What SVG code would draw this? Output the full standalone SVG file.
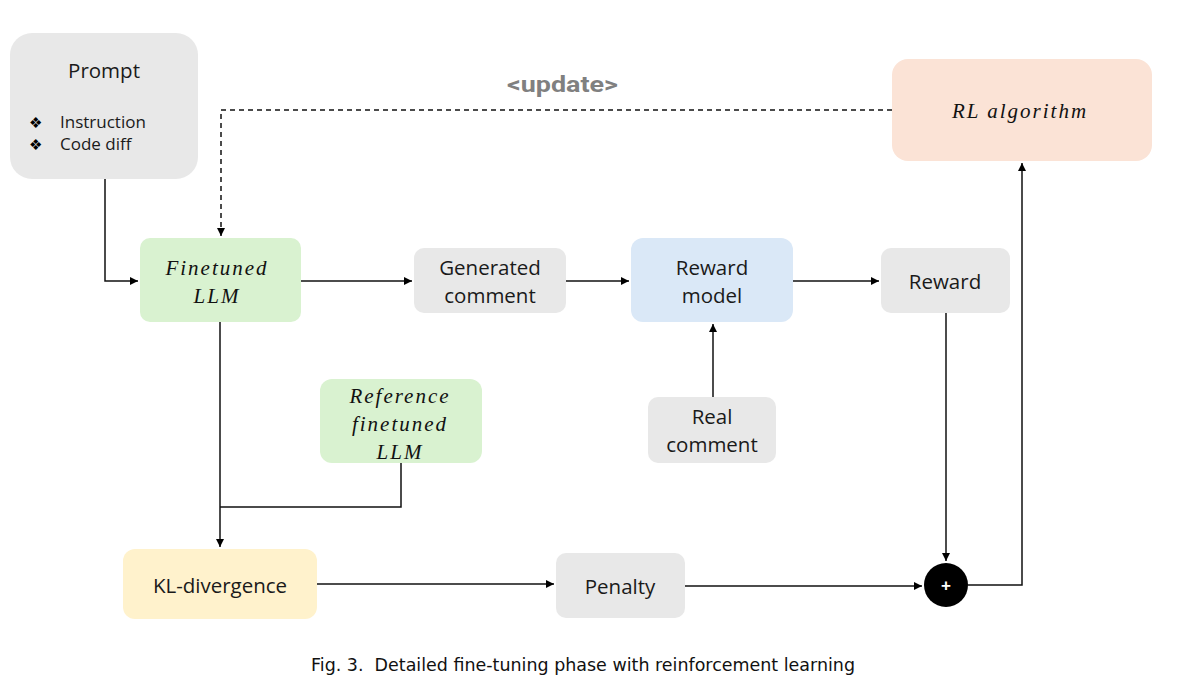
<svg xmlns="http://www.w3.org/2000/svg" width="1192" height="690" viewBox="0 0 1192 690">
<defs>
<marker id="ah" viewBox="0 0 10 10" refX="10" refY="5" markerWidth="8" markerHeight="8" markerUnits="userSpaceOnUse" orient="auto">
<path d="M0,0 L10,5 L0,10 z" fill="#000"/>
</marker>
<style>
.gray{fill:#e8e8e8}
.t{font-family:"Open Sans","Liberation Sans",sans-serif;font-size:20.5px;fill:#1a1a1a;text-anchor:middle}
.m{font-family:"Liberation Serif",serif;font-style:italic;font-size:21px;fill:#111;text-anchor:middle;letter-spacing:2px}
.s{font-family:"Open Sans","Liberation Sans",sans-serif;font-size:17px;fill:#1a1a1a}
.b{font-family:"DejaVu Sans",sans-serif;font-size:15px;fill:#000}
.c{fill:none;stroke:#111;stroke-width:1.5}
</style>
</defs>
<rect width="1192" height="690" fill="#fff"/>
<g id="connectors">
<path class="c" d="M105,179 V281 H138" marker-end="url(#ah)"/>
<path class="c" d="M892,110 H221 V236" stroke-dasharray="5,4" marker-end="url(#ah)"/>
<path class="c" d="M301,281 H412" marker-end="url(#ah)"/>
<path class="c" d="M566,281 H629" marker-end="url(#ah)"/>
<path class="c" d="M793,281 H879" marker-end="url(#ah)"/>
<path class="c" d="M713,397 V324" marker-end="url(#ah)"/>
<path class="c" d="M220,322 V547" marker-end="url(#ah)"/>
<path class="c" d="M401,463 V507 H220"/>
<path class="c" d="M317,584 H554" marker-end="url(#ah)"/>
<path class="c" d="M685,586 H922" marker-end="url(#ah)"/>
<path class="c" d="M946,313 V561" marker-end="url(#ah)"/>
<path class="c" d="M968,585 H1022 V163" marker-end="url(#ah)"/>
<text x="507" y="92" font-family="Roboto,'Liberation Sans',sans-serif" font-weight="bold" font-size="22" fill="#808080" textLength="111" lengthAdjust="spacingAndGlyphs">&lt;update&gt;</text>
</g>
<g id="prompt">
<rect x="10" y="33" width="188" height="146" rx="22" class="gray"/>
<text x="104" y="78" class="t" font-size="21">Prompt</text>
<text x="29" y="128" class="b">❖</text>
<text x="60" y="128" class="s">Instruction</text>
<text x="29" y="150" class="b">❖</text>
<text x="60" y="150" class="s">Code diff</text>
</g>
<g id="finetuned">
<rect x="140" y="238" width="161" height="84" rx="10" fill="#d9f2d0"/>
<text x="217" y="275" class="m">Finetuned</text>
<text x="217" y="303" class="m">LLM</text>
</g>
<g id="generated">
<rect x="414" y="248" width="152" height="65" rx="10" class="gray"/>
<text x="490" y="275" class="t">Generated</text>
<text x="490" y="303" class="t">comment</text>
</g>
<g id="rewardmodel">
<rect x="631" y="238" width="162" height="84" rx="12" fill="#dae8f7"/>
<text x="712" y="275" class="t">Reward</text>
<text x="712" y="303" class="t">model</text>
</g>
<g id="reward">
<rect x="881" y="248" width="129" height="65" rx="10" class="gray"/>
<text x="945" y="289" class="t">Reward</text>
</g>
<g id="rl">
<rect x="892" y="59" width="260" height="102" rx="16" fill="#fbe3d6"/>
<text x="1020" y="118" class="m" font-size="22">RL algorithm</text>
</g>
<g id="reference">
<rect x="320" y="379" width="162" height="84" rx="12" fill="#d9f2d0"/>
<text x="400" y="403" class="m">Reference</text>
<text x="400" y="431" class="m">finetuned</text>
<text x="400" y="459" class="m">LLM</text>
</g>
<g id="realcomment">
<rect x="648" y="397" width="128" height="66" rx="10" class="gray"/>
<text x="712" y="424" class="t">Real</text>
<text x="712" y="452" class="t">comment</text>
</g>
<g id="kl">
<rect x="123" y="549" width="194" height="70" rx="12" fill="#fff2cc"/>
<text x="220" y="593" class="t">KL-divergence</text>
</g>
<g id="penalty">
<rect x="556" y="553" width="129" height="65" rx="10" class="gray"/>
<text x="620" y="594" class="t">Penalty</text>
</g>
<g id="plus">
<circle cx="946" cy="585" r="22" fill="#000"/>
<text x="946" y="591" font-family="'Liberation Sans',sans-serif" font-weight="bold" font-size="17" fill="#fff" text-anchor="middle">+</text>
</g>
<text x="311" y="671" font-family="'DejaVu Sans',sans-serif" font-size="17.5" fill="#111" textLength="544" lengthAdjust="spacingAndGlyphs" xml:space="preserve">Fig. 3.  Detailed fine-tuning phase with reinforcement learning</text>
</svg>
